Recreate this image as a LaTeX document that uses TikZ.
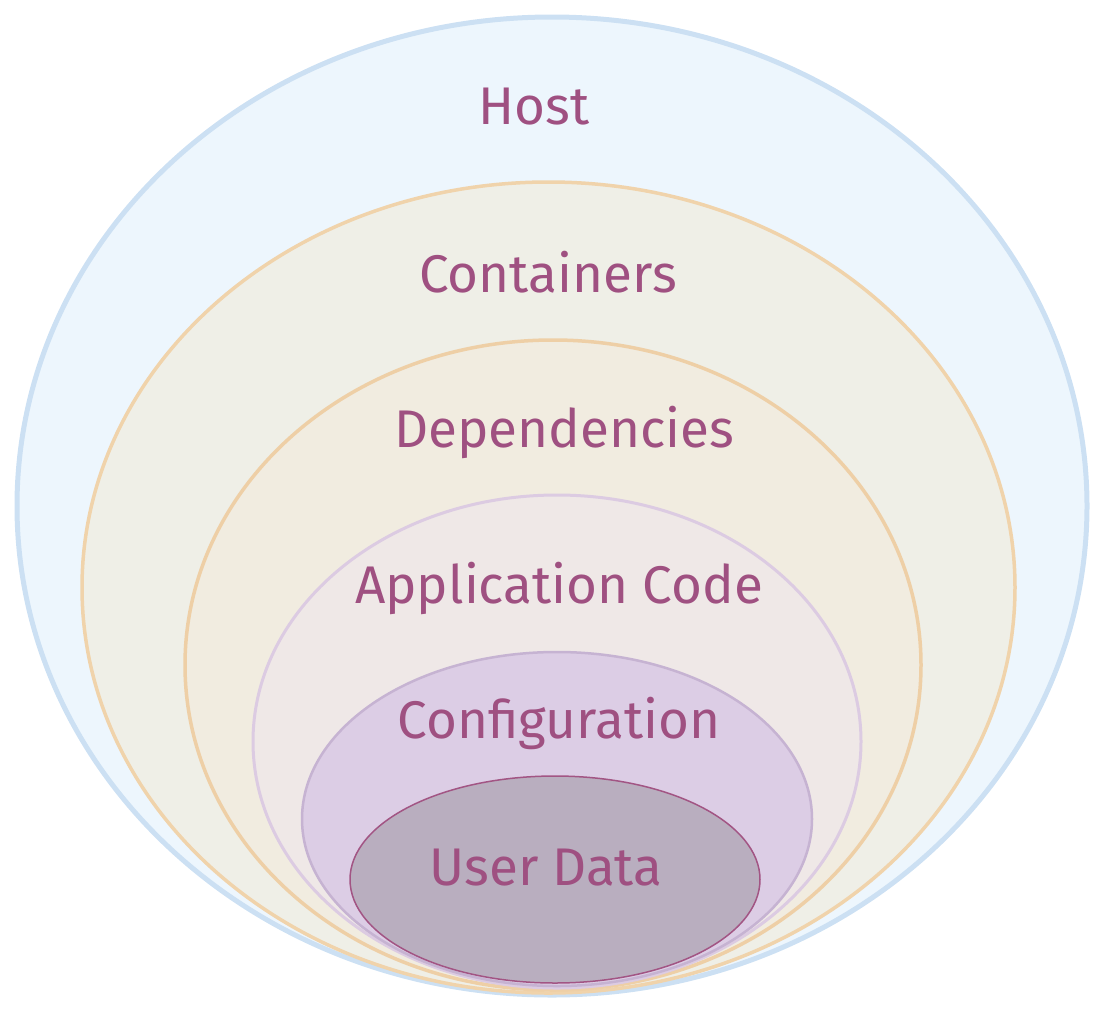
\documentclass[tikz,border=0pt]{standalone}
\usepackage{fontspec}
\setmainfont{Fira Sans}
\usepackage{xcolor}
\usepackage{tikz}
\usetikzlibrary{shapes.geometric}

\definecolor{hostfill}{HTML}{EDF6FD}
\definecolor{hostline}{HTML}{CCE0F3}
\definecolor{contfill}{HTML}{EFEFE7}
\definecolor{contline}{HTML}{F0D3AB}
\definecolor{depfill}{HTML}{F1ECE0}
\definecolor{depline}{HTML}{EECFA6}
\definecolor{appfill}{HTML}{EFE8E7}
\definecolor{appline}{HTML}{DCCBE2}
\definecolor{conffill}{HTML}{DCCDE5}
\definecolor{confline}{HTML}{C6B3D2}
\definecolor{datafill}{HTML}{B9AEBF}
\definecolor{dataline}{HTML}{A25584}
\definecolor{labeltext}{HTML}{9F5081}

\begin{document}
\begin{tikzpicture}[
    x=1pt, y=-1pt,
    layer/.style={ellipse, draw, inner sep=0pt},
    tag/.style={text=labeltext, font=\fontsize{53}{60}\selectfont}
]
    \useasboundingbox (0,0) rectangle (1103,1013);

    % nested layers, outermost first
    \node[layer, fill=hostfill, draw=hostline, line width=5pt, minimum width=1070pt, minimum height=978pt] (host) at (552,506) {};
    \node[layer, fill=contfill, draw=contline, line width=3.5pt, minimum width=933pt, minimum height=811pt] (cont) at (548.5,587.5) {};
    \node[layer, fill=depfill, draw=depline, line width=3.5pt, minimum width=736pt, minimum height=650pt] (dep) at (553,665) {};
    \node[layer, fill=appfill, draw=appline, line width=3pt, minimum width=608pt, minimum height=493pt] (app) at (557,741.5) {};
    \node[layer, fill=conffill, draw=confline, line width=2.5pt, minimum width=510pt, minimum height=334pt] (conf) at (557,819) {};
    \node[layer, fill=datafill, draw=dataline, line width=1.5pt, minimum width=410pt, minimum height=207pt] (data) at (555,879.5) {};

    % labels
    \node[tag] (hostlabel) at (534,107) {Host};
    \node[tag] (contlabel) at (548,272) {Containers};
    \node[tag] (deplabel) at (564,432) {Dependencies};
    \node[tag] (applabel) at (559,588) {Application Code};
    \node[tag] (conflabel) at (559,723) {Configuration};
    \node[tag] (datalabel) at (546,868) {User Data};
\end{tikzpicture}
\end{document}
